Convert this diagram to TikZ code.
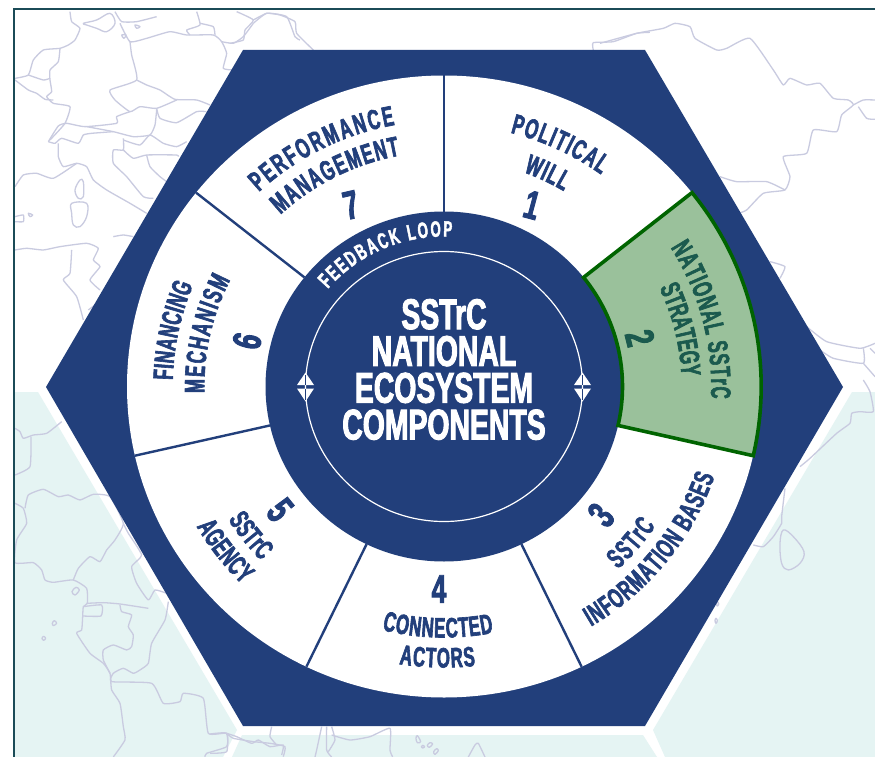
\documentclass[tikz,border=0pt]{standalone}
\usepackage{fontspec}
\usetikzlibrary{decorations.text}
\newfontfamily\condfont{Liberation Sans}[FakeStretch=0.6,BoldFeatures={FakeBold=2.2}]
\newfontfamily\titlefont{Liberation Sans}[FakeStretch=0.66,BoldFeatures={FakeBold=2.2}]
\definecolor{navy}{HTML}{223F7B}
\definecolor{mapline}{HTML}{C9CBE0}
\definecolor{paleteal}{HTML}{E5F4F3}
\definecolor{framecol}{HTML}{1B4B57}
\definecolor{greenfill}{HTML}{9AC19B}
\definecolor{greenline}{HTML}{006400}
\definecolor{greentext}{HTML}{1B5A4E}
\newcommand\lblfont{\condfont\bfseries\fontsize{28}{28}\selectfont}
\newcommand\numfont{\titlefont\bfseries\fontsize{40}{40}\selectfont}
% arc text: start angle, end angle, radius, format, text
\newcommand\arctext[5]{%
  \path[shift={(444,-386.5)},decorate,decoration={text along path,text align={fit to path},
     text={|#4|#5}}]
     (#1:{1.02*#3} and #3) arc[start angle=#1,end angle=#2,x radius={1.02*#3},y radius=#3];}
\newcommand\mapln[1]{\draw[mapstroke] plot[smooth,tension=.3] coordinates {#1};}
\newcommand\maploop[1]{\draw[mapstroke] plot[smooth cycle,tension=.6] coordinates {#1};}
\tikzset{
  mapstroke/.style={draw=mapline,line width=1.3pt,line join=round},
  divider/.style={draw=navy,line width=2.4pt},
  num/.style={font=\numfont,text=navy,inner sep=0pt},
}
\begin{document}
\begin{tikzpicture}[x=1pt,y=1pt]
\useasboundingbox (0,0) rectangle (875,-757);
\fill[white] (0,0) rectangle (875,-757);
\begin{scope}
\clip (14,-9) rectangle (875,-757);
% pale hexagons
\fill[paleteal] (14,-392) -- (38,-392) -- (237,-730) -- (223,-757) -- (14,-757) -- cycle;
\fill[paleteal] (242,-735) -- (643,-735) -- (657,-757) -- (232,-757) -- cycle;
\fill[paleteal] (653,-730) -- (852,-392) -- (875,-392) -- (875,-757) -- (665,-757) -- cycle;
% map outlines, traced in 3x coordinates
\begin{scope}[x=.3333pt,y=-.3333pt]
\mapln{(210,35)(215,65)(240,85)(225,120)(205,135)(180,145)(130,150)(100,180)(85,225)(45,235)}
\mapln{(85,225)(130,240)(150,235)}
\mapln{(180,145)(175,185)(150,210)(150,240)(155,275)(140,290)(160,310)(210,320)(195,370)(150,420)}
\mapln{(45,240)(85,270)(110,280)(135,298)(160,300)}
\mapln{(390,125)(395,165)(410,240)(330,270)(345,300)(390,335)(420,320)(470,325)(530,300)}
\mapln{(410,240)(440,255)(480,270)(525,298)(590,300)(630,315)}
\mapln{(360,70)(390,125)(440,115)(510,95)(560,105)(640,105)(665,125)(680,160)(670,205)(700,210)}
\mapln{(470,325)(480,355)(530,368)(590,335)(620,335)}
\mapln{(390,335)(350,350)(350,370)(255,380)(200,370)(175,378)(145,425)}
\mapln{(470,330)(465,375)(450,405)(400,410)(340,395)(260,380)}
\mapln{(145,425)(165,430)(185,415)(235,430)(250,405)(275,400)(340,395)}
\mapln{(370,415)(370,450)(340,450)(340,490)(380,530)(430,590)(460,595)}
\mapln{(370,420)(420,435)(450,405)(490,430)(530,440)(560,425)}
\mapln{(370,450)(400,475)(440,465)(530,465)(535,470)}
\mapln{(440,465)(450,500)(480,530)(500,545)}
\mapln{(175,430)(175,470)(190,500)(230,490)(260,500)(280,540)(320,570)(390,610)(440,640)}
\mapln{(45,560)(70,525)(110,520)(160,535)(230,490)}
\maploop{(240,540)(250,545)(250,590)(235,595)(225,570)}
\maploop{(215,610)(260,610)(260,650)(240,680)(220,675)(215,640)}
\mapln{(340,710)(370,705)(400,710)}
\maploop{(85,640)(98,645)(90,650)}
\mapln{(45,650)(70,645)(70,665)(45,665)}
\maploop{(250,70)(290,60)(330,40)(345,70)(320,95)(290,85)(260,75)}
\mapln{(345,35)(365,65)(410,65)(470,50)}
\maploop{(405,75)(420,80)(410,85)}
\maploop{(365,105)(378,105)(372,115)}
\mapln{(590,35)(600,75)(560,90)(570,105)}
\mapln{(600,70)(640,80)(645,105)}
\mapln{(760,70)(730,110)(700,130)(665,125)}
\mapln{(760,70)(800,40)(860,50)(885,110)(900,120)}
\mapln{(45,750)(80,745)(130,750)(180,740)(260,730)(295,745)(280,780)(300,800)(270,840)(300,870)}
\mapln{(215,750)(210,820)(190,840)(230,890)(250,960)}
\mapln{(265,930)(285,915)}
\end{scope}
\begin{scope}[shift={(230,0)},x=.3333pt,y=-.3333pt]
\mapln{(20,35)(70,60)(45,90)(40,120)(0,130)}
\mapln{(70,60)(110,40)(150,45)(195,65)(200,100)(250,150)}
\mapln{(1090,150)(1090,128)(1150,125)(1220,100)(1260,97)}
\end{scope}
\begin{scope}[shift={(600,0)},x=.3333pt,y=-.3333pt]
\mapln{(0,130)(110,100)(190,85)(225,70)(270,80)(285,115)(350,150)(380,145)(450,115)(520,210)(550,255)(570,235)(620,255)(660,250)(700,295)(745,300)(760,315)(725,345)(710,395)(640,390)(620,460)(550,470)(570,530)(555,570)(490,580)(440,630)(415,640)}
\mapln{(360,530)(410,545)(500,545)(555,570)}
\mapln{(760,315)(790,300)(825,300)}
\mapln{(775,320)(800,355)(825,358)}
\mapln{(510,785)(555,800)(540,835)}
\mapln{(620,980)(680,1025)(780,1045)(825,1030)}
\mapln{(660,1050)(700,1075)(790,1090)(790,1045)}
\mapln{(790,1090)(825,1130)}
\mapln{(810,1045)(825,1060)}
\end{scope}
\begin{scope}[shift={(600,-380)},x=.3333pt,y=-.3333pt]
\mapln{(790,0)(810,35)(820,95)(780,95)(755,100)(750,130)(710,160)(630,235)(600,260)}
\mapln{(555,325)(545,410)(545,430)(520,470)(490,500)(460,495)}
\maploop{(550,450)(580,470)(612,515)(600,550)(565,570)(545,550)(540,490)}
\maploop{(352,665)(356,672)(352,678)(349,672)}
\maploop{(348,715)(352,722)(348,730)(345,722)}
\end{scope}
\begin{scope}[shift={(0,-380)},x=.3333pt,y=-.3333pt]
\mapln{(45,145)(60,155)(70,175)(100,165)(140,160)(185,125)}
\mapln{(93,170)(90,260)(45,285)}
\mapln{(45,370)(70,385)(80,430)(50,480)(45,548)(100,548)(125,570)(135,600)(160,607)(220,600)(260,625)(262,670)(250,680)(248,710)(245,750)(230,760)(270,820)(310,850)(330,880)(335,930)(360,970)(370,1040)(375,1080)(340,1131)}
\mapln{(75,385)(85,345)(130,328)(175,350)(205,345)(240,360)(280,343)(330,350)(370,430)(345,480)(320,510)(300,545)(270,530)(235,565)(220,600)}
\mapln{(370,430)(385,460)(425,525)(395,560)(410,610)(445,660)(465,630)(500,640)}
\mapln{(262,670)(310,668)(360,672)(445,685)}
\mapln{(250,680)(305,675)(303,708)(248,708)}
\mapln{(360,675)(365,695)(395,705)(385,740)(400,765)(395,800)(380,810)(340,795)(310,810)(310,840)(330,880)}
\mapln{(505,665)(495,720)(455,790)(445,850)(420,870)(400,880)(370,865)(340,880)(335,905)(455,910)(490,970)(540,965)(550,940)(610,955)(625,1060)(680,1060)(680,1100)(620,1120)(615,1131)}
\mapln{(680,1060)(700,1075)(760,1085)(810,1090)(855,1100)(850,1130)}
\maploop{(228,622)(238,630)(225,645)(216,635)}
\maploop{(163,722)(170,730)(160,737)(157,730)}
\maploop{(131,769)(137,775)(131,781)(126,775)}
\end{scope}
\begin{scope}[shift={(210,-720)},x=.3333pt,y=-.3333pt]
\mapln{(0,42)(50,40)(50,95)(0,100)}
\mapln{(50,40)(80,50)(125,70)(145,60)(180,80)(220,75)(215,105)}
\mapln{(185,20)(180,50)(200,75)}
\mapln{(335,20)(320,90)(315,111)}
\mapln{(350,20)(350,90)(365,111)}
\mapln{(365,20)(375,60)(355,95)}
\mapln{(365,45)(420,60)(480,50)(540,25)(540,90)(548,111)}
\maploop{(622,47)(632,65)(622,68)(618,55)}
\maploop{(660,68)(668,72)(658,82)(652,76)}
\maploop{(680,86)(685,92)(675,103)(671,95)}
\maploop{(638,76)(644,80)(638,84)(634,80)}
\mapln{(775,111)(795,75)(805,70)(825,111)}
\end{scope}
\end{scope}
% frame
\draw[framecol,line width=1.8pt] (14,-757) -- (14,-9) -- (875,-9);
% hexagon
\fill[navy] (243,-50) -- (645,-50) -- (843,-387) -- (645,-726) -- (243,-726) -- (46,-387) -- cycle;
% wheel
\begin{scope}[shift={(444,-386.5)}]
\fill[white] (0,0) ellipse[x radius=317,y radius=311];
\fill[greenfill] (38.57:{1.02*311} and 311) arc[start angle=38.57,end angle=-12.86,x radius=317.2,y radius=311]
   -- (-12.86:{1.02*175} and 175) arc[start angle=-12.86,end angle=38.57,x radius=178.5,y radius=175] -- cycle;
\foreach \a in {90,141.43,192.86,244.29,295.71}
  \draw[divider] (\a:178.5 and 175) -- (\a:317.2 and 311);
\fill[navy] (0,0) ellipse[x radius=178.5,y radius=175];
\draw[greenline,line width=3.6pt,line join=miter] (38.57:317.2 and 311) arc[start angle=38.57,end angle=-12.86,x radius=317.2,y radius=311]
   -- (-12.86:178.5 and 175) arc[start angle=-12.86,end angle=38.57,x radius=178.5,y radius=175] -- cycle;
\draw[white,line width=1.2pt] (0,0) ellipse[x radius=138.5,y radius=135];
\foreach \s in {-1,1}{
  \fill[white] ({\s*138.5-8.5},1.5) -- ({\s*138.5+8.5},1.5) -- ({\s*138.5},14) -- cycle;
  \fill[white] ({\s*138.5-8.5},-2) -- ({\s*138.5+8.5},-2) -- ({\s*138.5},-15) -- cycle;
  \draw[navy,line width=.7pt] ({\s*138.5},1.5) -- ({\s*138.5},12);
  \draw[navy,line width=.7pt] ({\s*138.5},-2) -- ({\s*138.5},-13);
}
\end{scope}
% centre title
\node[name=title,font=\titlefont\bfseries\fontsize{43}{36.8}\selectfont,text=white,align=center,inner sep=0pt] at (444,-369.5) {SSTrC\\NATIONAL\\ECOSYSTEM\\COMPONENTS};
% arc labels
\newcommand\navyf{\lblfont\color{navy}}
\newcommand\greenf{\lblfont\color{greentext}}
\arctext{133}{100.4}{266}{\navyf}{PERFORMANCE}
\arctext{133}{100.6}{235}{\navyf}{MANAGEMENT}
\arctext{75.6}{54}{262}{\navyf}{POLITICAL}
\arctext{70}{59}{228}{\navyf}{WILL}
\arctext{32}{-2.6}{262}{\greenf}{NATIONAL SSTrC}
\arctext{25}{2.8}{233}{\greenf}{STRATEGY}
\arctext{-47}{-33.9}{250}{\navyf}{SSTrC}
\arctext{-59}{-18.7}{280}{\navyf}{INFORMATION BASES}
\arctext{-104}{-78.8}{251}{\navyf}{CONNECTED}
\arctext{-99}{-83.7}{281}{\navyf}{ACTORS}
\arctext{212.2}{224.2}{250}{\navyf}{SSTrC}
\arctext{210}{225}{280}{\navyf}{AGENCY}
\arctext{178.6}{157.6}{266}{\navyf}{FINANCING}
\arctext{181.6}{153}{235}{\navyf}{MECHANISM}
\newcommand\feedf{\condfont\bfseries\fontsize{22}{22}\selectfont\color{white}}
\arctext{139.4}{87}{150}{\feedf}{FEEDBACK LOOP}
% numbers
\node[num,name=n1,rotate=-15] at (532,-205) {1};
\node[num,name=n2,rotate=-76,text=greentext] at (640,-338) {2};
\node[num,name=n3,rotate=51] at (601,-515) {3};
\node[num,name=n4] at (439,-589) {4};
\node[num,name=n5,rotate=-51] at (280,-510) {5};
\node[num,name=n6,rotate=77] at (247,-341) {6};
\node[num,name=n7,rotate=13] at (351,-205) {7};
\end{tikzpicture}
\end{document}
